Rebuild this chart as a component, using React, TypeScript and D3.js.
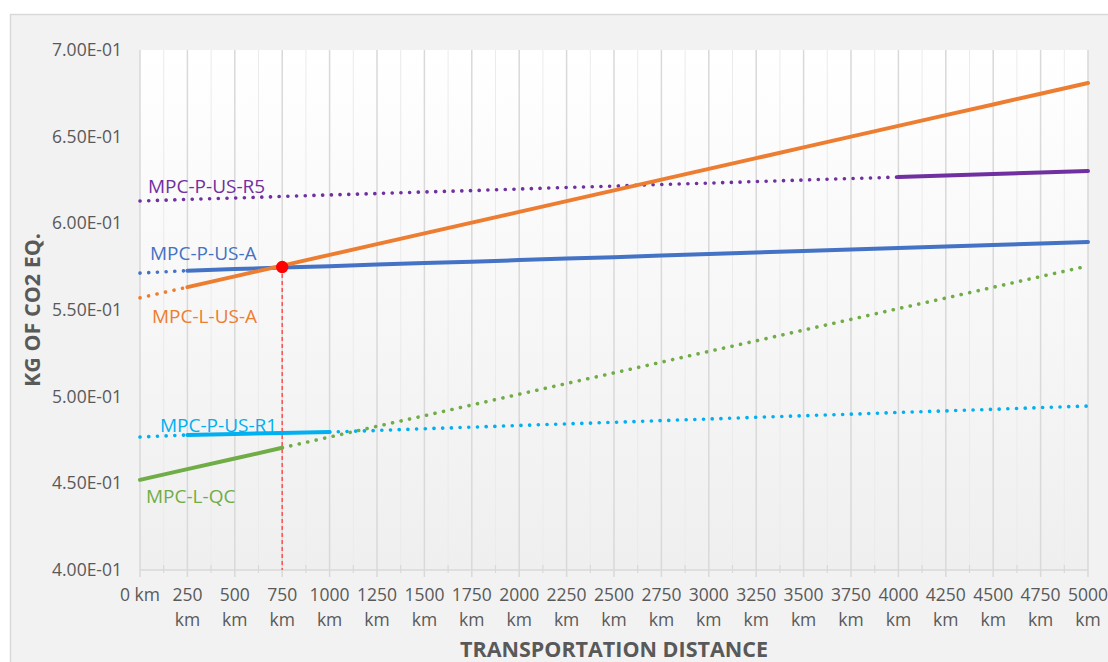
import * as d3 from "d3";

// distance categories (km)
const distances = [0, 250, 500, 750, 1000, 1250, 1500, 1750, 2000, 2250, 2500, 2750, 3000, 3250, 3500, 3750, 4000, 4250, 4500, 4750, 5000];

// kg CO2 eq. per scenario
const lUsA = [0.557, 0.5632, 0.5694, 0.5756, 0.5818, 0.588, 0.5942, 0.6004, 0.6066, 0.6128, 0.619, 0.6252, 0.6314, 0.6376, 0.6438, 0.65, 0.6562, 0.6624, 0.6686, 0.6748, 0.681];
const pUsR5 = [0.6129, 0.6138, 0.6146, 0.6155, 0.6164, 0.6172, 0.6181, 0.6189, 0.6198, 0.6207, 0.6215, 0.6224, 0.6232, 0.6241, 0.625, 0.6258, 0.6267, 0.6276, 0.6285, 0.6293, 0.6302];
const pUsA = [0.5713, 0.5727, 0.5736, 0.5745, 0.5753, 0.5762, 0.5771, 0.5779, 0.5788, 0.5797, 0.5805, 0.5814, 0.5823, 0.5832, 0.584, 0.5849, 0.5858, 0.5866, 0.5875, 0.5884, 0.5892];
const pUsR1 = [0.4767, 0.4779, 0.4785, 0.479, 0.4796, 0.4805, 0.4815, 0.4824, 0.4834, 0.4843, 0.4852, 0.4862, 0.4871, 0.4881, 0.489, 0.4899, 0.4909, 0.4918, 0.4927, 0.4937, 0.4946];
const lQc = [0.452, 0.4582, 0.4643, 0.4705, 0.4767, 0.4829, 0.489, 0.4952, 0.5014, 0.5076, 0.5137, 0.5199, 0.5261, 0.5322, 0.5384, 0.5446, 0.5508, 0.5569, 0.5631, 0.5693, 0.5754];

const yTicks = [0.4, 0.45, 0.5, 0.55, 0.6, 0.65, 0.7];

// break-even point
const breakEven = { km: 750, value: 0.5748 };

const series = [
  { name: "MPC-P-US-R5", values: pUsR5, color: "#7030A0", solid: [4000, 5000], labelDy: -15, labelDx: 8 },
  { name: "MPC-P-US-A", values: pUsA, color: "#4472C4", solid: [250, 5000], labelDy: -20, labelDx: 10 },
  { name: "MPC-L-US-A", values: lUsA, color: "#ED7D31", solid: [250, 5000], labelDy: 18, labelDx: 12 },
  { name: "MPC-P-US-R1", values: pUsR1, color: "#00B0F0", solid: [250, 1000], labelDy: -12, labelDx: 20 },
  { name: "MPC-L-QC", values: lQc, color: "#70AD47", solid: [0, 750], labelDy: 16, labelDx: 6 },
];

const W = 1108;
const H = 662;
const left = 140;
const right = 1088;
const top = 50;
const bottom = 570;
const font = "'Open Sans', 'Noto Sans', sans-serif";

type Pt = { d: number; v: number };

const App = () => {
  const x = d3.scaleLinear().domain([0, 5000]).range([left, right]);
  const y = d3.scaleLinear().domain([0.4, 0.7]).range([bottom, top]);

  const minor = d3.range(125, 5000, 250);
  const fmt = (v: number) => v.toExponential(2).replace("e-", "E-0").toUpperCase();

  return (
    <svg
      width={W}
      height={H}
      style={{ position: "absolute", left: 0, top: 0, fontFamily: font }}
    >
      <defs>
        <linearGradient id="plotBg" x1="0" y1="0" x2="0" y2="1">
          <stop offset="0" stopColor="#ffffff" />
          <stop offset="1" stopColor="#efefef" />
        </linearGradient>
      </defs>
      <rect x={0} y={0} width={W} height={H} fill="#ffffff" />
      <rect x={10.5} y={14.5} width={W} height={H} fill="#f2f2f2" stroke="#d9d9d9" strokeWidth={1.5} />
      <rect x={left} y={top} width={right - left} height={bottom - top} fill="url(#plotBg)" />

      {/* gridlines */}
      {minor.map((d) => (
        <line key={"m" + d} x1={x(d)} x2={x(d)} y1={top} y2={bottom} stroke="#ebebeb" strokeWidth={1} />
      ))}
      {distances.map((d) => (
        <line key={"g" + d} x1={x(d)} x2={x(d)} y1={top} y2={bottom} stroke="#d9d9d9" strokeWidth={1.5} />
      ))}

      {/* x axis */}
      <line x1={left} x2={right} y1={bottom} y2={bottom} stroke="#d9d9d9" strokeWidth={1.5} />
      {distances.map((d) => (
        <line key={"t" + d} x1={x(d)} x2={x(d)} y1={bottom} y2={bottom + 7} stroke="#d9d9d9" strokeWidth={1.5} />
      ))}
      {minor.map((d) => (
        <line key={"mt" + d} x1={x(d)} x2={x(d)} y1={bottom - 5} y2={bottom + 3} stroke="#d9d9d9" strokeWidth={1.2} />
      ))}

      {distances.map((d) =>
        d === 0 ? (
          <text key={"xl" + d} x={x(d)} y={bottom + 31} textAnchor="middle" fontSize={17.5} fill="#595959">
            0 km
          </text>
        ) : (
          <text key={"xl" + d} x={x(d)} y={bottom + 31} textAnchor="middle" fontSize={17.5} fill="#595959">
            <tspan x={x(d)}>{d}</tspan>
            <tspan x={x(d)} dy={25}>km</tspan>
          </text>
        )
      )}

      {/* y axis labels */}
      {yTicks.map((v) => (
        <text key={"yl" + v} x={122} y={y(v)} dy="0.35em" textAnchor="end" fontSize={17.5} fill="#595959">
          {fmt(v)}
        </text>
      ))}

      <text
        transform={`translate(40,${(top + bottom) / 2}) rotate(-90)`}
        textAnchor="middle"
        fontSize={21.5}
        fontWeight="bold"
        fill="#595959"
      >
        KG OF CO2 EQ.
      </text>
      <text x={(left + right) / 2} y={657} textAnchor="middle" fontSize={21.5} fontWeight="bold" fill="#595959">
        TRANSPORTATION DISTANCE
      </text>

      {/* red break-even guide */}
      <line
        x1={x(breakEven.km)}
        x2={x(breakEven.km)}
        y1={y(breakEven.value)}
        y2={bottom}
        stroke="#ff5050"
        strokeWidth={1.5}
        strokeDasharray="4 3"
      />

      {/* series: dotted where extrapolated, solid over the modelled range */}
      {series.map((s) => {
        const pts: Pt[] = distances.map((d, i) => ({ d, v: s.values[i] }));
        const inSolid = (p: Pt) => p.d >= s.solid[0] && p.d <= s.solid[1];
        const outSolid = (p: Pt) => p.d <= s.solid[0] || p.d >= s.solid[1];
        const dotted = d3
          .line<Pt>()
          .defined(outSolid)
          .x((p) => x(p.d))
          .y((p) => y(p.v));
        const solid = d3
          .line<Pt>()
          .x((p) => x(p.d))
          .y((p) => y(p.v));
        const dottedPts = pts.filter(outSolid);
        return (
          <g key={s.name}>
            {dottedPts.length > 1 && (
              <path
                d={dotted(pts) || ""}
                fill="none"
                stroke={s.color}
                strokeWidth={3.6}
                strokeLinecap="round"
                strokeDasharray="0.1 8.6"
              />
            )}
            <path d={solid(pts.filter(inSolid)) || ""} fill="none" stroke={s.color} strokeWidth={4} strokeLinecap="round" />
          </g>
        );
      })}

      {series.map((s) => (
        <text
          key={"lab" + s.name}
          x={x(0) + s.labelDx}
          y={y(s.values[0]) + s.labelDy}
          dy="0.35em"
          fontSize={19}
          fill={s.color}
        >
          {s.name}
        </text>
      ))}

      <circle cx={x(breakEven.km)} cy={y(breakEven.value)} r={6.2} fill="#ff0000" />
    </svg>
  );
};

export default App;
